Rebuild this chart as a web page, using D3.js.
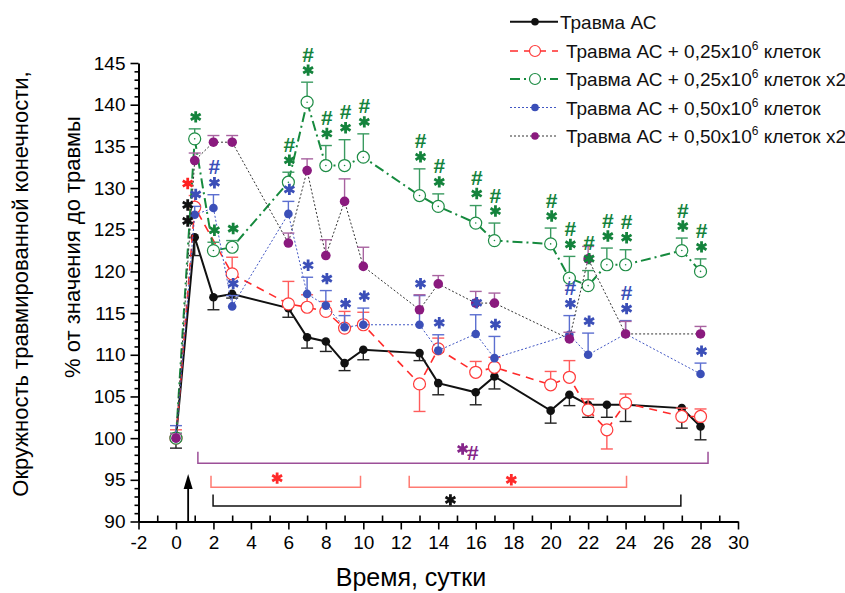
<!DOCTYPE html>
<html>
<head>
<meta charset="utf-8">
<script src="https://cdn.jsdelivr.net/npm/d3@7"></script>
<style>
  body { margin: 0; background: #fff; }
  svg text { font-family: "Liberation Sans", Arial, sans-serif; }
</style>
</head>
<body>
<svg id="chart" width="845" height="593"></svg>
<script>
// Data (% of pre-injury value, by day)
var xTicks = [-2, 0, 2, 4, 6, 8, 10, 12, 14, 16, 18, 20, 22, 24, 26, 28, 30];
var yTicks = [90, 95, 100, 105, 110, 115, 120, 125, 130, 135, 140, 145];

var daysBlack = [0, 1, 2, 3, 6, 7, 8, 9, 10, 13, 14, 16, 17, 20, 21, 22, 23, 24, 27, 28];
var valsBlack = [100, 124.1, 116.9, 117.3, 115.6, 112.1, 111.6, 109.0, 110.6, 110.2, 106.6, 105.5, 107.4, 103.3, 105.2, 104.0, 104.0, 104.0, 103.6, 101.4];
var errsBlack = [-1.2, -2.2, -1.5, -0.5, -1.1, -1.3, -1.2, -0.9, -1.2, -0.9, -1.4, -1.5, -1.5, -1.5, -1.3, -1.5, -1.5, -2.0, -2.4, -1.6];

var daysRed = [0, 1, 3, 6, 7, 8, 9, 10, 13, 14, 16, 17, 20, 21, 22, 23, 24, 27, 28];
var valsRed = [100, 127.7, 119.7, 116.1, 115.7, 115.2, 113.2, 113.6, 106.5, 110.7, 107.9, 108.5, 106.4, 107.3, 103.4, 101.0, 104.2, 102.6, 102.6];
var errsRed = [1.0, 1.4, 2.0, 2.7, 1.5, 1.2, 2.0, 1.5, -3.3, 1.3, 1.3, 1.2, 1.6, 2.0, 1.3, -2.3, 1.1, 1.0, 0.9];

var daysGreen = [0, 1, 2, 3, 6, 7, 8, 9, 10, 13, 14, 16, 17, 20, 21, 22, 23, 24, 27, 28];
var valsGreen = [100, 135.9, 122.5, 122.9, 130.7, 140.3, 132.7, 132.7, 133.7, 129.1, 127.8, 125.8, 123.7, 123.3, 119.2, 118.3, 120.8, 120.8, 122.5, 120.0];
var errsGreen = [0.6, 1.2, 1.0, 0.8, 1.2, 2.4, 2.4, 3.1, 2.8, 3.2, 1.5, 2.1, 2.1, 1.9, 2.6, 1.8, 2.0, 1.8, 1.5, 1.5];

var daysBlue = [0, 1, 2, 3, 6, 7, 8, 9, 10, 13, 14, 16, 17, 21, 22, 24, 28];
var valsBlue = [100, 126.8, 127.6, 115.8, 126.9, 117.3, 115.9, 113.3, 113.6, 113.6, 110.5, 112.5, 109.6, 112.4, 110.0, 112.5, 107.7];
var errsBlue = [1.5, 1.0, 1.6, 1.3, 1.5, 2.0, 1.8, 1.4, 2.0, 3.5, 1.9, 2.3, 2.6, 2.3, 2.6, 1.6, 1.3];

var daysPurple = [0, 1, 2, 3, 6, 7, 8, 9, 10, 13, 14, 16, 17, 21, 22, 24, 28];
var valsPurple = [100, 133.3, 135.5, 135.5, 123.4, 132.1, 121.9, 128.4, 120.6, 115.4, 118.5, 116.2, 116.2, 111.9, 121.5, 112.5, 112.5];
var errsPurple = [0.5, 0.9, 0.8, 0.8, 1.2, 1.4, 1.9, 2.7, 2.3, 1.8, 1.0, 1.4, 1.2, 0.8, 1.5, 1.5, 0.9];

// significance marks: [day, marks (top to bottom)]
var sigBlack = [[1, "**"]];
var sigRed = [[1, "*"]];
var sigGreen = [[1, "*"], [2, "*"], [3, "*"], [6, "#*"], [7, "#*"], [8, "#*"], [9, "#*"], [10, "#*"], [13, "#*"], [14, "#*"],
                [16, "#*"], [17, "#*"], [20, "#*"], [21, "#*"], [22, "#*"], [23, "#*"], [24, "#*"], [27, "#*"], [28, "#*"]];
var sigBlue = [[1, "*"], [2, "#*"], [3, "*"], [6, "*"], [7, "*"], [8, "*"], [9, "*"], [10, "*"], [13, "*"], [14, "*"],
               [16, "*"], [17, "*"], [21, "#*"], [22, "*"], [24, "#*"], [28, "*"]];

var legendLabels = ["Травма АС", "Травма АС + 0,25x10", "Травма АС + 0,25x10", "Травма АС + 0,50x10", "Травма АС + 0,50x10"];
var legendTails = ["", " клеток", " клеток x2", " клеток", " клеток x2"];

// brackets at the bottom: [from day, to day, level]
var brackets = [
  { from: 1.17, to: 28.4, level: 97.0, color: "#9c4f98", markColor: "#86268a", marks: [["*", 15.3, 98.7], ["#", 15.85, 98.3]] },
  { from: 1.87, to: 9.85, level: 94.1, color: "#ff7b72", markColor: "#ff2a2a", marks: [["*", 5.4, 95.2]] },
  { from: 12.45, to: 24.05, level: 94.1, color: "#ff7b72", markColor: "#ff2a2a", marks: [["*", 17.9, 95.0]] },
  { from: 1.98, to: 26.95, level: 91.85, color: "#111111", markColor: "#111111", marks: [["*", 14.65, 92.6]] }
];
var injuryDay = 0.65;

// ---------------------------------------------------------------
var series = [
  { name: "black", days: daysBlack, vals: valsBlack, errs: errsBlack, sig: sigBlack, side: true,
    line: "#111", width: 2, dash: null, bar: "#222", marker: "dot", fill: "#111", r: 4.3, sigColor: "#111" },
  { name: "red", days: daysRed, vals: valsRed, errs: errsRed, sig: sigRed, side: true,
    line: "#ff2b2b", width: 1.6, dash: "8,6", bar: "#ff5c5c", marker: "open", fill: "#ff3b3b", r: 6, sigColor: "#ff2020" },
  { name: "green", days: daysGreen, vals: valsGreen, errs: errsGreen, sig: sigGreen, side: false,
    line: "#168a3e", width: 2, dash: "10,4,2,4", bar: "#3a9a60", marker: "open", fill: "#1e8c45", r: 6, sigColor: "#14833c" },
  { name: "blue", days: daysBlue, vals: valsBlue, errs: errsBlue, sig: sigBlue, side: false,
    line: "#4257c4", width: 1, dash: "2,2", bar: "#5c6fd0", marker: "dot", fill: "#3b4fb8", r: 4.3, sigColor: "#3b4fb8" },
  { name: "purple", days: daysPurple, vals: valsPurple, errs: errsPurple, sig: [], side: false,
    line: "#333", width: 1, dash: "2,2", bar: "#a863a0", marker: "dot", fill: "#8a1a7e", r: 4.8, sigColor: "#8a1a7e" }
];

var svg = d3.select("#chart");
var x = d3.scaleLinear().domain([-2, 30]).range([138.5, 738]);
var y = d3.scaleLinear().domain([90, 145]).range([521.5, 63]);

// Axes
var gx = svg.append("g").attr("transform", "translate(0," + y(90) + ")");
gx.call(d3.axisBottom(x).tickValues(xTicks).tickSize(8).tickSizeOuter(0).tickPadding(6)
  .tickFormat(function(d) { return String(d); }));
var gxm = svg.append("g").attr("transform", "translate(0," + y(90) + ")");
gxm.call(d3.axisBottom(x).tickValues(d3.range(-1, 30, 2)).tickSize(-6).tickFormat(""));
gxm.select(".domain").remove();

var gy = svg.append("g").attr("transform", "translate(" + x(-2) + ",0)");
gy.call(d3.axisLeft(y).tickValues(yTicks).tickSize(8).tickSizeOuter(0).tickPadding(5));
var gym = svg.append("g").attr("transform", "translate(" + x(-2) + ",0)");
gym.call(d3.axisLeft(y).tickValues(d3.range(91, 145).filter(function(v) { return v % 5 != 0; })).tickSize(4).tickFormat(""));
gym.select(".domain").remove();

svg.selectAll(".domain").attr("stroke", "#000").attr("stroke-width", 2);
svg.selectAll(".tick line").attr("stroke", "#000").attr("stroke-width", 1.6);
svg.selectAll(".tick text").attr("font-size", 19).attr("fill", "#000")
  .attr("font-family", "Liberation Sans, Arial, sans-serif");

// Axis titles
svg.append("text").attr("x", 411).attr("y", 586).attr("text-anchor", "middle")
  .attr("font-size", 25).text("Время, сутки");
svg.append("text").attr("transform", "translate(28,284) rotate(-90)").attr("text-anchor", "middle")
  .attr("font-size", 22).text("Окружность травмированной конечности,");
svg.append("text").attr("transform", "translate(80,247) rotate(-90)").attr("text-anchor", "middle")
  .attr("font-size", 22).text("% от значения до травмы");

// Injury arrow
var ax = x(injuryDay);
svg.append("line").attr("x1", ax).attr("x2", ax).attr("y1", y(90)).attr("y2", 486)
  .attr("stroke", "#000").attr("stroke-width", 1.8);
svg.append("path").attr("d", "M" + ax + ",474 L" + (ax - 4.5) + ",489 L" + (ax + 4.5) + ",489 Z").attr("fill", "#000");

// star (drawn as a 6-armed asterisk) or hash (text) centred on (cx, cy)
function drawMark(g, ch, cx, cy, color) {
  if (ch == "*") {
    var r = 5.7, p = "";
    [90, 30, 150].forEach(function(a) {
      var dx = r * Math.cos(a * Math.PI / 180), dy = r * Math.sin(a * Math.PI / 180);
      p += "M" + (cx - dx) + "," + (cy - dy) + "L" + (cx + dx) + "," + (cy + dy);
    });
    g.append("path").attr("d", p).attr("stroke", color).attr("stroke-width", 2.8).attr("fill", "none");
  } else {
    g.append("text").attr("x", cx).attr("y", cy + 7.5)
      .attr("text-anchor", "middle").attr("font-size", 21).attr("font-weight", "bold")
      .attr("fill", color).text(ch);
  }
}

// Brackets
brackets.forEach(function(b) {
  var ly = y(b.level);
  svg.append("path")
    .attr("d", "M" + x(b.from) + "," + (ly - 11.5) + "V" + ly + "H" + x(b.to) + "V" + (ly - 11.5))
    .attr("fill", "none").attr("stroke", b.color).attr("stroke-width", 1.5);
  b.marks.forEach(function(m) { drawMark(svg, m[0], x(m[1]), y(m[2]), b.markColor); });
});

// Series
var line = d3.line().x(function(d) { return x(d.day); }).y(function(d) { return y(d.v); });

series.forEach(function(s) {
  s.pts = s.days.map(function(d, i) { return { day: d, v: s.vals[i], e: s.errs[i] }; });
});

series.forEach(function(s) {
  var g = svg.append("g").attr("class", "series-" + s.name);
  g.append("path").datum(s.pts).attr("d", line).attr("fill", "none")
    .attr("stroke", s.line).attr("stroke-width", s.width)
    .attr("stroke-dasharray", s.dash);

  // one-sided error bars
  var bars = g.selectAll(".bar").data(s.pts).enter().append("g").attr("class", "bar");
  bars.append("line")
    .attr("x1", function(d) { return x(d.day); }).attr("x2", function(d) { return x(d.day); })
    .attr("y1", function(d) { return y(d.v); }).attr("y2", function(d) { return y(d.v + d.e); })
    .attr("stroke", s.bar).attr("stroke-width", 1.4);
  bars.append("line")
    .attr("x1", function(d) { return x(d.day) - 6; }).attr("x2", function(d) { return x(d.day) + 6; })
    .attr("y1", function(d) { return y(d.v + d.e); }).attr("y2", function(d) { return y(d.v + d.e); })
    .attr("stroke", s.bar).attr("stroke-width", 1.4);

  var m = g.selectAll(".pt").data(s.pts).enter().append("circle").attr("class", "pt")
    .attr("cx", function(d) { return x(d.day); }).attr("cy", function(d) { return y(d.v); })
    .attr("r", s.r);
  if (s.marker == "open") {
    m.attr("fill", "#fff").attr("stroke", s.fill).attr("stroke-width", 1.2);
    if (s.name == "green") {
      g.selectAll(".ctr").data(s.pts).enter().append("circle")
        .attr("cx", function(d) { return x(d.day); }).attr("cy", function(d) { return y(d.v); })
        .attr("r", 0.8).attr("fill", s.fill);
    }
  } else {
    m.attr("fill", s.fill);
  }
});

// significance marks above points
series.forEach(function(s) {
  s.sig.forEach(function(sg) {
    var p = s.pts.filter(function(d) { return d.day == sg[0]; })[0];
    var top = p.e > 0 ? y(p.v + p.e) : y(p.v) - s.r;
    var cx = x(p.day) + (s.side ? -7 : 1);
    var chars = sg[1].split("");
    for (var k = 0; k < chars.length; k++) {
      var ch = chars[chars.length - 1 - k];
      drawMark(svg, ch, cx, top - 12 - k * 16, s.sigColor);
    }
  });
});

// Legend
var legendY = [21.7, 51, 79, 107.5, 136];
series.forEach(function(s, i) {
  var g = svg.append("g").attr("transform", "translate(0," + legendY[i] + ")");
  g.append("line").attr("x1", 510).attr("x2", 558).attr("y1", 0).attr("y2", 0)
    .attr("stroke", s.line).attr("stroke-width", s.width).attr("stroke-dasharray", s.dash);
  var c = g.append("circle").attr("cx", 535).attr("cy", 0).attr("r", s.marker == "open" ? 5.5 : 3.8);
  if (s.marker == "open") c.attr("fill", "#fff").attr("stroke", s.fill).attr("stroke-width", 1.2);
  else c.attr("fill", s.fill);
  var t = g.append("text").attr("x", i == 0 ? 560 : 566).attr("y", 7).attr("font-size", 19).attr("fill", "#111");
  t.append("tspan").text(legendLabels[i]);
  if (legendTails[i]) {
    t.append("tspan").attr("font-size", 12).attr("dy", -8).text("6");
    t.append("tspan").attr("dy", 8).text(legendTails[i]);
  }
});
</script>
</body>
</html>
